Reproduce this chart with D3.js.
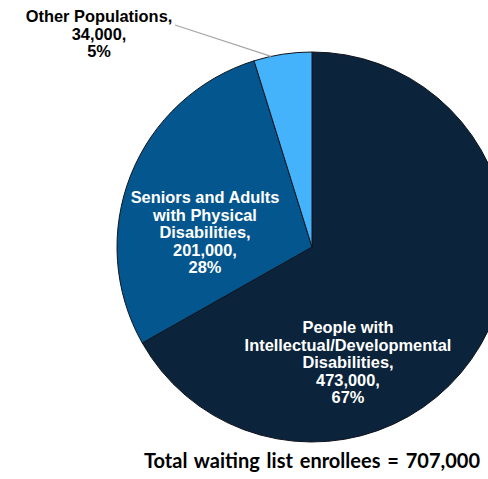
<!DOCTYPE html>
<html>
<head>
<meta charset="utf-8">
<script src="https://cdn.jsdelivr.net/npm/d3@7"></script>
<style>
  body { margin: 0; background: #fff; }
  .lbl { font-family: "Liberation Sans", Arial, sans-serif; font-weight: bold; font-size: 16.4px; }
  .foot { font-family: Lato, "Open Sans", sans-serif; font-weight: bold; font-size: 20px; word-spacing: 2px; fill: #000; }
</style>
</head>
<body>
<div id="chart"></div>
<script>
var width = 488, height = 479;

// data
var groups = ["People with Intellectual/Developmental Disabilities", "Seniors and Adults with Physical Disabilities", "Other Populations"];
var enrollees = [473000, 201000, 34000];
var shares = ["67%", "28%", "5%"];
var total = "707,000";

var colors = ["#0b233b", "#04568f", "#45b3fb"];

// label lines + where they sit (layout only)
var labelLines = [
  ["People with", "Intellectual/Developmental", "Disabilities,", "473,000,", "67%"],
  ["Seniors and Adults", "with Physical", "Disabilities,", "201,000,", "28%"],
  ["Other Populations,", "34,000,", "5%"]
];
var labelPos = [[348, 333], [205, 203], [99, 22]];
var labelFill = ["#fff", "#fff", "#000"];

var cx = 312, cy = 247, r = 195;

var svg = d3.select("#chart").append("svg")
    .attr("width", width)
    .attr("height", height);

var pie = d3.pie().sort(null).value(function (d) { return d; });
var arc = d3.arc().innerRadius(0).outerRadius(r);
var arcs = pie(enrollees);

var g = svg.append("g")
    .attr("transform", "translate(" + cx + "," + cy + ")");

g.selectAll("path.slice")
    .data(arcs)
    .enter().append("path")
    .attr("class", "slice")
    .attr("d", arc)
    .style("fill", function (d, i) { return colors[i]; })
    .style("stroke", "#10141c")
    .style("stroke-width", 1);

// leader line for the small slice
var small = arcs[2];
var ang = small.startAngle + (small.endAngle - small.startAngle) * 0.3;
svg.append("line")
    .attr("x1", 175).attr("y1", 25)
    .attr("x2", cx + r * Math.sin(ang))
    .attr("y2", cy - r * Math.cos(ang))
    .style("stroke", "#a6a6a6")
    .style("stroke-width", 1.2);

labelLines.forEach(function (lines, i) {
  var t = svg.append("text")
      .attr("class", "lbl")
      .attr("text-anchor", "middle")
      .attr("x", labelPos[i][0])
      .attr("y", labelPos[i][1])
      .style("fill", labelFill[i]);
  t.selectAll("tspan")
      .data(lines)
      .enter().append("tspan")
      .attr("x", labelPos[i][0])
      .attr("dy", function (d, j) { return j === 0 ? 0 : 17.6; })
      .text(function (d) { return d; });
});

svg.append("text")
    .attr("class", "foot")
    .attr("x", 312)
    .attr("y", 468)
    .attr("text-anchor", "middle")
    .text("Total waiting list enrollees = " + total);
</script>
</body>
</html>
